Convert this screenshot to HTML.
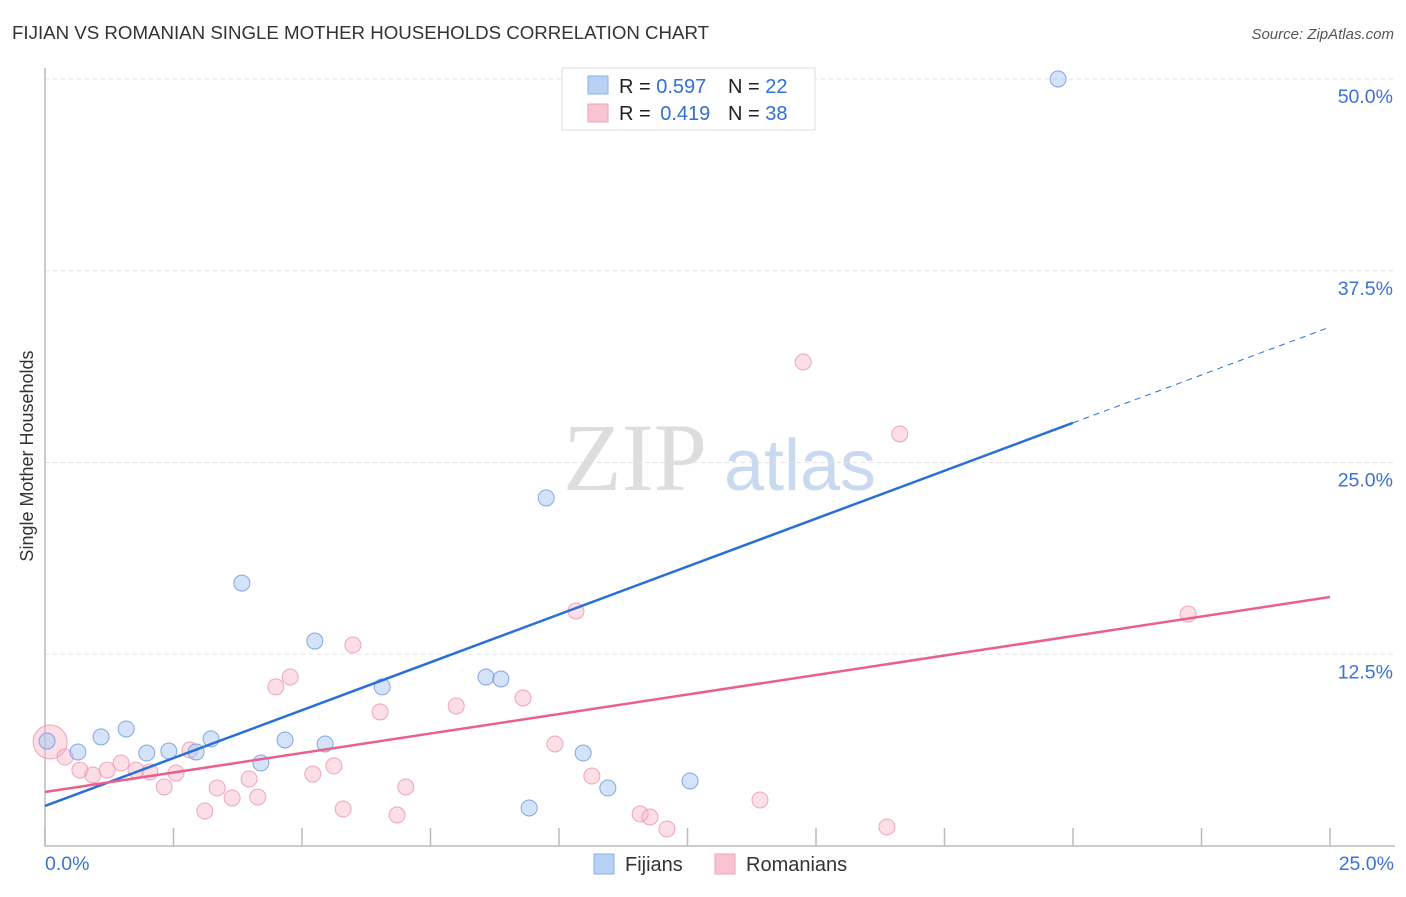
<!DOCTYPE html>
<html><head><meta charset="utf-8"><style>
body{margin:0;background:#fff;font-family:"Liberation Sans",sans-serif}
svg text{font-family:"Liberation Sans",sans-serif}
</style></head><body>
<svg id="chart" width="1406" height="892" viewBox="0 0 1406 892">
<text x="12" y="39" font-size="18.7" fill="#333">FIJIAN VS ROMANIAN SINGLE MOTHER HOUSEHOLDS CORRELATION CHART</text>
<text x="1394" y="39" font-size="15" fill="#555" text-anchor="end" font-style="italic">Source: ZipAtlas.com</text>
<text x="33" y="456" font-size="18" fill="#333" text-anchor="middle" transform="rotate(-90 33 456)">Single Mother Households</text>
<g>
<text x="635" y="490" font-size="96" fill="#ddd" text-anchor="middle" font-family="Liberation Serif" style="font-family:'Liberation Serif',serif">ZIP</text>
<text x="800" y="490" font-size="72" fill="#c8d9f0" text-anchor="middle">atlas</text>
</g>
<g id="grid"></g>
<g id="axes"></g>
<g id="marks"></g>
<g>
<rect x="562" y="68" width="253" height="62" fill="#fff" stroke="#ddd"/>
<rect x="588" y="76" width="20" height="18" fill="#b8d2f6" stroke="#8ab0e6"/>
<rect x="588" y="104" width="20" height="18" fill="#f9c4d2" stroke="#eea3b8"/>
<text x="619" y="93" font-size="20" fill="#222">R = <tspan fill="#2f6fd6">0.597</tspan><tspan x="728">N = </tspan><tspan fill="#2f6fd6">22</tspan></text>
<text x="619" y="120" font-size="20" fill="#222">R = <tspan fill="#2f6fd6" dx="4">0.419</tspan><tspan x="728">N = </tspan><tspan fill="#2f6fd6">38</tspan></text>
</g>
<g>
<rect x="594" y="854" width="20" height="20" fill="#b8d2f6" stroke="#8ab0e6"/>
<text x="625" y="871" font-size="20" fill="#333">Fijians</text>
<rect x="715" y="854" width="20" height="20" fill="#f9c4d2" stroke="#eea3b8"/>
<text x="746" y="871" font-size="20" fill="#333">Romanians</text>
</g>
</svg>
<script>
const fijX=[0.04,0.64,1.09,1.58,1.98,2.41,2.94,3.23,3.83,4.20,4.67,5.25,5.45,6.56,8.58,8.87,9.42,9.75,10.47,10.95,12.55,19.71];
const fijY=[6.84,6.13,7.11,7.63,6.06,6.19,6.13,6.98,17.14,5.41,6.91,13.36,6.65,10.37,11.02,10.89,2.48,22.69,6.06,3.78,4.24,50.0];
const romX=[0.10,0.39,0.68,0.93,1.21,1.48,1.77,2.04,2.32,2.55,2.82,3.11,3.35,3.64,3.97,4.14,4.49,4.77,5.21,5.62,5.80,5.99,6.52,6.85,7.02,8.00,9.30,9.92,10.33,10.64,11.58,11.77,12.10,13.91,14.75,16.38,16.63,22.24];
const romY=[6.78,5.80,4.95,4.63,4.95,5.41,4.95,4.82,3.85,4.76,6.26,2.28,3.78,3.13,4.37,3.19,10.37,11.02,4.69,5.22,2.41,13.10,8.74,2.02,3.85,9.13,9.65,6.65,15.32,4.56,2.09,1.89,1.11,3.00,31.55,1.24,26.86,15.12];
const fijTrend=[2.61,33.83];
const romTrend=[3.52,16.23];
const yTicks=[12.5,25.0,37.5,50.0];
const xTickLabels=["0.0%","25.0%"];
const NS="http://www.w3.org/2000/svg";
const X=v=>45+v*51.4, Y=v=>846-v*15.34;
function mk(p,t,a){const e=document.createElementNS(NS,t);for(const k in a)e.setAttribute(k,a[k]);p.appendChild(e);return e;}
const grid=document.getElementById('grid'),axes=document.getElementById('axes'),marks=document.getElementById('marks');
yTicks.forEach(t=>{
 const l=mk(grid,'line',{x1:45,x2:1395,y1:Y(t),y2:Y(t),stroke:'#e2e2e2','stroke-dasharray':'4 4'});
 
 
 const tx=mk(axes,'text',{x:1393,y:Y(t)+24,'font-size':19.5,fill:'#3a72d8','text-anchor':'end'});
 tx.textContent=t.toFixed(1)+'%';
 
 
});
const ax=mk(axes,'path',{d:'M45 68V846H1395',fill:'none',stroke:'#bbb','stroke-width':1.5});


for(let i=0;i<=10;i++){
 const t=mk(axes,'line',{x1:X(i*2.5),x2:X(i*2.5),y1:828,y2:846,stroke:'#bbb','stroke-width':1.5});
 
 
}
[[0,'start',45],[25,'end',1394]].forEach((d,i)=>{
 const t=mk(axes,'text',{x:d[2],y:870,'font-size':19.5,fill:'#3a72d8','text-anchor':d[1]});
 t.textContent=xTickLabels[i];
 
 
});
romX.forEach((x,i)=>{
 const c=mk(marks,'circle',{cx:X(x),cy:Y(romY[i]),r:i===0?17:8,fill:'#f7b6c8','fill-opacity':0.45,stroke:'#eb92ad','stroke-opacity':0.8});
 
 
});
fijX.forEach((x,i)=>{
 const c=mk(marks,'circle',{cx:X(x),cy:Y(fijY[i]),r:8,fill:'#a9c8f2','fill-opacity':0.5,stroke:'#6d9be0','stroke-opacity':0.85});
 
 
});
const fv=x=>fijTrend[0]+(fijTrend[1]-fijTrend[0])*x/25;
const fl=mk(marks,'line',{x1:X(0),y1:Y(fv(0)),x2:X(20),y2:Y(fv(20)),stroke:'#2a6fd8','stroke-width':2.5});


const fd=mk(marks,'line',{x1:X(20),y1:Y(fv(20)),x2:X(25),y2:Y(fv(25)),stroke:'#2a6fd8','stroke-width':1,'stroke-dasharray':'6 5'});


const rl=mk(marks,'line',{x1:X(0),y1:Y(romTrend[0]),x2:X(25),y2:Y(romTrend[1]),stroke:'#e8608b','stroke-width':2.5});


</script>
</body></html>
